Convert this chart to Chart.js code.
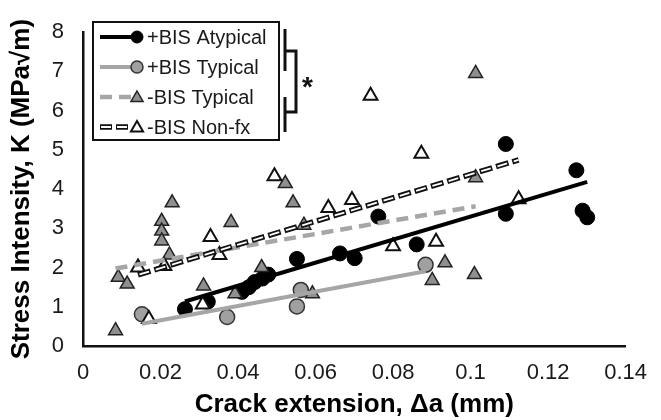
<!DOCTYPE html>
<html>
<head>
<meta charset="utf-8">
<script src="https://cdn.jsdelivr.net/npm/chart.js@4.4.1/dist/chart.umd.min.js"></script>
<style>
    html, body { margin: 0; padding: 0; background: #fff; }
    #chart { display: block; }
</style>
</head>
<body>
<canvas id="chart" width="661" height="420"></canvas>
<script>
// Values
const atypicalX = [0.0263, 0.0322, 0.0410, 0.0428, 0.0443, 0.0463, 0.0478, 0.0552, 0.0663, 0.0701, 0.0762, 0.0861, 0.1091, 0.1091, 0.1273, 0.1289, 0.1301];
const atypicalK = [0.94, 1.13, 1.38, 1.50, 1.63, 1.72, 1.82, 2.22, 2.36, 2.24, 3.30, 2.59, 5.15, 3.37, 4.48, 3.45, 3.28];

const typicalX = [0.0152, 0.0372, 0.0562, 0.0552, 0.0884];
const typicalK = [0.81, 0.74, 1.43, 1.01, 2.07];

const noBisTypicalX = [0.0230, 0.0203, 0.0203, 0.0203, 0.0382, 0.0091, 0.0114, 0.0084, 0.0311, 0.0392, 0.0223, 0.0522, 0.0542, 0.0570, 0.0461, 0.0592, 0.0934, 0.0901, 0.1013, 0.1013, 0.1010];
const noBisTypicalK = [3.65, 3.18, 2.93, 2.68, 3.15, 1.75, 1.58, 0.39, 1.53, 1.33, 2.32, 4.14, 3.65, 3.08, 2.00, 1.33, 2.12, 1.67, 6.95, 4.29, 1.82];

const nonFxX = [0.0329, 0.0352, 0.0210, 0.0142, 0.0309, 0.0170, 0.0494, 0.0633, 0.0694, 0.0800, 0.0742, 0.0873, 0.0911, 0.1124];
const nonFxK = [2.78, 2.32, 2.04, 2.00, 1.06, 0.69, 4.33, 3.52, 3.72, 2.54, 6.38, 4.90, 2.66, 3.74];

const xTickLabels = ['0', '0.02', '0.04', '0.06', '0.08', '0.1', '0.12', '0.14'];
const yTickLabels = ['0', '1', '2', '3', '4', '5', '6', '7', '8'];
const legendLabels = ['+BIS Atypical', '+BIS Typical', '-BIS Typical', '-BIS Non-fx'];

const FONT = "'Liberation Sans', Arial, sans-serif";
const GREY_LINE = '#a6a6a6';

function toPoints(xs, ys) {
    return xs.map((x, i) => ({ x: x, y: ys[i] }));
}

// Linear least-squares trendline over the series' own x range
function trendline(xs, ys) {
    const n = xs.length;
    const mx = xs.reduce((a, b) => a + b, 0) / n;
    const my = ys.reduce((a, b) => a + b, 0) / n;
    let sxy = 0;
    let sxx = 0;
    xs.forEach((x, i) => {
        sxy += (x - mx) * (ys[i] - my);
        sxx += (x - mx) * (x - mx);
    });
    const slope = sxy / sxx;
    const x0 = Math.min(...xs);
    const x1 = Math.max(...xs);
    return [{ x: x0, y: my + slope * (x0 - mx) }, { x: x1, y: my + slope * (x1 - mx) }];
}

function lineSet(data, color, width, dash, dashOffset, order) {
    return {
        data: data,
        showLine: true,
        borderColor: color,
        borderWidth: width,
        borderDash: dash || [],
        borderDashOffset: dashOffset || 0,
        pointRadius: 0,
        fill: false,
        order: order
    };
}

function pointSet(data, style, fill, stroke, width) {
    return {
        data: data,
        showLine: false,
        pointStyle: style,
        pointRadius: style === 'triangle' ? 8 : 7.5,
        pointBackgroundColor: fill,
        pointBorderColor: stroke,
        pointBorderWidth: width,
        order: 3
    };
}

function drawCircle(ctx, x, y, r, fill, stroke, width) {
    ctx.beginPath();
    ctx.arc(x, y, r, 0, Math.PI * 2);
    ctx.fillStyle = fill;
    ctx.fill();
    ctx.lineWidth = width;
    ctx.strokeStyle = stroke;
    ctx.stroke();
}

function drawTriangle(ctx, x, y, r, fill, stroke, width) {
    ctx.beginPath();
    ctx.moveTo(x, y - r);
    ctx.lineTo(x + r * 0.866, y + r * 0.5);
    ctx.lineTo(x - r * 0.866, y + r * 0.5);
    ctx.closePath();
    ctx.fillStyle = fill;
    ctx.fill();
    ctx.lineWidth = width;
    ctx.strokeStyle = stroke;
    ctx.stroke();
}

function strokeLine(ctx, x0, x1, y, color, width, dash, offset) {
    ctx.beginPath();
    ctx.setLineDash(dash || []);
    ctx.lineDashOffset = offset || 0;
    ctx.moveTo(x0, y);
    ctx.lineTo(x1, y);
    ctx.lineWidth = width;
    ctx.strokeStyle = color;
    ctx.stroke();
    ctx.setLineDash([]);
}

// Boxed legend inside the plot, with the significance bracket
const boxLegend = {
    id: 'boxLegend',
    afterDraw(chart) {
        const ctx = chart.ctx;
        ctx.save();
        ctx.fillStyle = '#fff';
        ctx.fillRect(93, 22, 186, 118);
        ctx.lineWidth = 2;
        ctx.strokeStyle = '#111';
        ctx.strokeRect(93, 22, 186, 118);

        const rows = [37, 67, 97, 127];
        strokeLine(ctx, 100, 132, rows[0], '#000', 4);
        drawCircle(ctx, 137, rows[0], 6, '#000', '#000', 1);
        strokeLine(ctx, 100, 132, rows[1], GREY_LINE, 4);
        drawCircle(ctx, 137, rows[1], 6, '#a0a0a0', '#333', 1.5);
        strokeLine(ctx, 100, 132, rows[2], GREY_LINE, 4.5, [12, 7]);
        drawTriangle(ctx, 137, rows[2] + 1, 7, '#8f8f8f', '#222', 1.5);
        strokeLine(ctx, 100, 130, rows[3], '#111', 5.5, [12, 4]);
        strokeLine(ctx, 100, 130, rows[3], '#fff', 1.8, [10, 6], -1);
        drawTriangle(ctx, 137, rows[3] + 1, 7, '#fff', '#111', 2);

        ctx.font = '20px ' + FONT;
        ctx.fillStyle = '#1a1a1a';
        ctx.textBaseline = 'middle';
        ctx.textAlign = 'left';
        legendLabels.forEach((label, i) => ctx.fillText(label, 147, rows[i] + 1));

        // bracket
        ctx.lineWidth = 3;
        ctx.strokeStyle = '#111';
        ctx.beginPath();
        ctx.moveTo(285, 29); ctx.lineTo(285, 71);
        ctx.moveTo(285, 97); ctx.lineTo(285, 132);
        ctx.moveTo(285, 51); ctx.lineTo(296, 51); ctx.lineTo(296, 112); ctx.lineTo(285, 112);
        ctx.stroke();
        ctx.font = 'bold 28px ' + FONT;
        ctx.fillStyle = '#111';
        ctx.textBaseline = 'alphabetic';
        ctx.fillText('*', 302, 96);
        ctx.restore();
    }
};

const datasets = [
    lineSet(trendline(nonFxX, nonFxK), '#fff', 1.8, [10, 7], -1.5, 0),
    lineSet(trendline(nonFxX, nonFxK), '#111', 5.5, [13, 4], 0, 1),
    lineSet(trendline(atypicalX, atypicalK), '#000', 4, null, 0, 1),
    lineSet(trendline(typicalX, typicalK), GREY_LINE, 4, null, 0, 1),
    lineSet(trendline(noBisTypicalX, noBisTypicalK), GREY_LINE, 4.5, [12, 7], 0, 1),
    pointSet(toPoints(nonFxX, nonFxK), 'triangle', '#fff', '#111', 2),
    pointSet(toPoints(noBisTypicalX, noBisTypicalK), 'triangle', '#8f8f8f', '#222', 1.5),
    pointSet(toPoints(typicalX, typicalK), 'circle', '#a0a0a0', '#333', 1.5),
    pointSet(toPoints(atypicalX, atypicalK), 'circle', '#000', '#000', 1)
];

new Chart(document.getElementById('chart'), {
    type: 'scatter',
    data: { datasets: datasets },
    options: {
        responsive: false,
        animation: false,
        events: [],
        layout: { padding: { top: 21, right: 25, left: 0, bottom: 0 } },
        plugins: {
            legend: { display: false },
            tooltip: { enabled: false }
        },
        scales: {
            x: {
                type: 'linear',
                min: 0,
                max: 0.14,
                afterFit(scale) { scale.height = 74; },
                grid: { display: false, drawTicks: false },
                border: { display: true, color: '#111', width: 2.5 },
                ticks: {
                    stepSize: 0.02,
                    autoSkip: false,
                    maxRotation: 0,
                    padding: 14,
                    color: '#1a1a1a',
                    font: { family: FONT, size: 22 },
                    callback: (value, index) => xTickLabels[index]
                },
                title: {
                    display: true,
                    text: 'Crack extension, Δa (mm)',
                    color: '#000',
                    padding: { top: 0, bottom: 0 },
                    font: { family: FONT, size: 26, weight: 'bold' }
                }
            },
            y: {
                type: 'linear',
                min: 0,
                max: 8,
                afterFit(scale) { scale.width = 83; },
                grid: { display: false, drawTicks: false },
                border: { display: true, color: '#111', width: 2.5 },
                ticks: {
                    stepSize: 1,
                    padding: 19,
                    color: '#1a1a1a',
                    font: { family: FONT, size: 22 },
                    callback: (value, index) => yTickLabels[index]
                },
                title: {
                    display: true,
                    text: 'Stress Intensity, K (MPa√m)',
                    color: '#000',
                    padding: { top: 6, bottom: 0 },
                    font: { family: FONT, size: 26, weight: 'bold' }
                }
            }
        }
    },
    plugins: [boxLegend]
});
</script>
</body>
</html>
